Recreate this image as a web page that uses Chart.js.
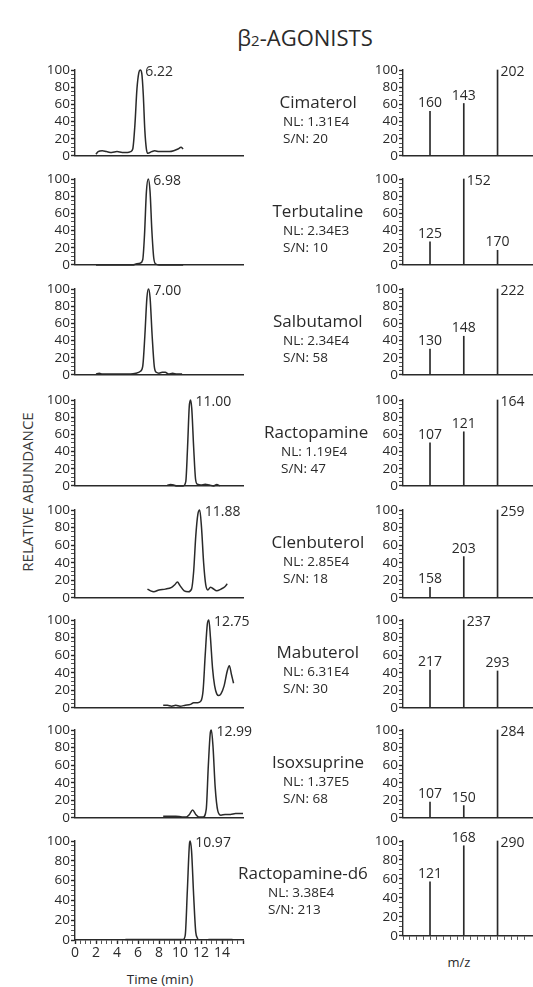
<!DOCTYPE html>
<html>
<head>
<meta charset="utf-8">
<script src="https://cdn.jsdelivr.net/npm/chart.js@4.4.1/dist/chart.umd.min.js"></script>
<style>
  html, body { margin: 0; padding: 0; background: #fff; }
  body { width: 533px; height: 987px; position: relative; overflow: hidden;
         font-family: "Open Sans", sans-serif; color: #2a2a2a; }
  .txt { position: absolute; white-space: nowrap; line-height: 1; }
  #title { left: 0; width: 610px; top: 26px; text-align: center; font-size: 22px; }
  #title sub { font-size: 15px; vertical-align: baseline; }
  #yTitle { left: 27px; top: 492px; font-size: 15px; color: #3a3a3a;
            transform: translate(-50%, -50%) rotate(-90deg); }
</style>
</head>
<body>
<div id="title" class="txt">β<sub>2</sub>-AGONISTS</div>
<div id="yTitle" class="txt">RELATIVE ABUNDANCE</div>
<div class="txt" style="left:160px;top:973px;font-size:13.5px;transform:translateX(-50%)">Time (min)</div>
<div class="txt" style="left:459px;top:956px;font-size:13px;transform:translateX(-50%)">m/z</div>

<script>
// ============================================================
// DATA
// ============================================================

const compounds      = ["Cimaterol", "Terbutaline", "Salbutamol", "Ractopamine",
                        "Clenbuterol", "Mabuterol", "Isoxsuprine", "Ractopamine-d6"];
const normLevels     = ["1.31E4", "2.34E3", "2.34E4", "1.19E4", "2.85E4", "6.31E4", "1.37E5", "3.38E4"];
const signalToNoise  = [20, 10, 58, 47, 18, 30, 68, 213];
const retentionTimes = ["6.22", "6.98", "7.00", "11.00", "11.88", "12.75", "12.99", "10.97"];
const timeTicks      = [0, 2, 4, 6, 8, 10, 12, 14];

// product ions (m/z) and their relative abundance, left to right as drawn
const ionMz = [
  [160, 143, 202], [125, 152, 170], [130, 148, 222], [107, 121, 164],
  [158, 203, 259], [217, 237, 293], [107, 150, 284], [121, 168, 290]
];
const ionAbundance = [
  [52, 61, 100], [27, 100, 17], [30, 45, 100], [50, 63, 100],
  [12, 47, 100], [43, 100, 42], [18, 14, 100], [57, 95, 100]
];

// chromatogram traces: [time (min), relative abundance]
const cimaterolTrace = [[2.0,2],[2.2,5],[2.6,6],[3.0,5],[3.5,4],[4.0,5],[4.5,4],[5.0,4],[5.3,5],
  [5.5,8],[5.7,35],[5.9,78],[6.08,97],[6.22,100],[6.36,96],[6.5,72],[6.65,30],[6.8,8],[6.95,3],
  [7.3,5],[7.6,6],[8.0,5],[8.5,5],[9.0,5],[9.4,6],[9.8,8],[10.1,10],[10.3,8]];
const terbutalineTrace = [[2.0,0],[5.5,0],[5.8,1],[6.2,2],[6.45,6],[6.62,35],[6.8,85],[6.98,100],
  [7.15,85],[7.32,40],[7.5,8],[7.7,1],[8.0,0],[10.3,0]];
const salbutamolTrace = [[2.0,1],[2.3,2],[2.6,1],[3.5,1],[4.5,1],[5.3,1],[5.8,2],[6.2,4],[6.45,10],
  [6.65,45],[6.85,90],[7.0,100],[7.15,90],[7.35,45],[7.55,10],[7.75,3],[8.0,2],[8.3,3],[8.6,3],
  [8.9,1],[9.3,2],[9.7,1],[10.2,1]];
const ractopamineTrace = [[8.8,1],[9.1,1.5],[9.4,1],[9.7,0],[10.3,0],[10.55,5],[10.72,45],[10.88,92],
  [11.0,100],[11.12,90],[11.3,45],[11.48,8],[11.65,2],[12.0,1],[12.4,2],[12.8,1],[13.2,0],[13.5,1.5],[13.8,0]];
const clenbuterolTrace = [[6.9,10],[7.2,8],[7.5,7],[8.0,9],[8.6,10],[9.2,12],[9.5,15],[9.75,18],
  [10.0,14],[10.4,8],[10.8,7],[11.1,10],[11.3,30],[11.5,70],[11.7,95],[11.88,100],[12.05,80],
  [12.25,40],[12.45,15],[12.65,9],[12.9,12],[13.1,11],[13.5,8],[13.9,10],[14.3,13],[14.5,16]];
const mabuterolTrace = [[8.4,3],[8.8,3],[9.2,2],[9.6,3],[10.0,2],[10.5,3],[11.0,4],[11.3,6],[11.7,6],
  [12.0,8],[12.2,20],[12.4,60],[12.6,95],[12.75,100],[12.9,80],[13.1,45],[13.3,25],[13.5,16],
  [13.7,14],[13.9,16],[14.2,25],[14.5,42],[14.7,48],[14.9,38],[15.1,28]];
const isoxsuprineTrace = [[8.4,2],[9.0,2],[9.6,2],[10.2,1],[10.6,1],[10.9,4],[11.2,9],[11.5,4],[11.8,1],
  [12.2,1],[12.5,10],[12.7,60],[12.9,98],[12.99,100],[13.15,80],[13.35,35],[13.6,8],[13.9,3],
  [14.3,4],[14.8,4],[15.3,5],[16.0,5]];
const ractopamineD6Trace = [[4.8,0.5],[10.3,0.5],[10.5,5],[10.7,50],[10.9,97],[10.97,100],[11.1,90],
  [11.3,45],[11.5,8],[11.7,1],[11.8,null],[12.7,0.5],[15.0,0.5]];

const traces = [cimaterolTrace, terbutalineTrace, salbutamolTrace, ractopamineTrace,
                clenbuterolTrace, mabuterolTrace, isoxsuprineTrace, ractopamineD6Trace];


// ============================================================
// LAYOUT
// ============================================================

const INK  = "#2a2a2a";
const FONT = '"Open Sans", sans-serif';
const rowTop    = [70, 179, 289, 400, 510, 620, 730, 841];
const rowBottom = [164, 273, 383, 494, 606, 716, 826, 940];


// ============================================================
// PLUGINS
// ============================================================

const peakLabel = {
  id: "peakLabel",
  afterDatasetsDraw(chart, args, opts) {
    if (!opts.text) return;
    const ctx = chart.ctx;
    ctx.save();
    ctx.font = "14px " + FONT;
    ctx.fillStyle = INK;
    ctx.textBaseline = "middle";
    ctx.fillText(opts.text, chart.scales.x.getPixelForValue(opts.at) + 5, chart.chartArea.top + 2);
    ctx.restore();
  }
};

const stickLabels = {
  id: "stickLabels",
  afterDatasetsDraw(chart, args, opts) {
    if (!opts.labels) return;
    const ctx  = chart.ctx;
    const meta = chart.getDatasetMeta(0);
    ctx.save();
    ctx.font = "14px " + FONT;
    ctx.fillStyle = INK;
    meta.data.forEach((bar, k) => {
      const v = chart.data.datasets[0].data[k].y;
      if (v >= 99) {
        ctx.textAlign = "left";
        ctx.textBaseline = "middle";
        ctx.fillText(opts.labels[k], bar.x + 3, bar.y + 2);
      } else {
        ctx.textAlign = "center";
        ctx.textBaseline = "alphabetic";
        ctx.fillText(opts.labels[k], bar.x, bar.y - 4);
      }
    });
    ctx.restore();
  }
};

Chart.register(peakLabel, stickLabels);


// ============================================================
// CHARTS
// ============================================================

function makeCanvas(left, top, w, h) {
  const c = document.createElement("canvas");
  c.width = w; c.height = h;
  c.style.cssText = `position:absolute;left:${left}px;top:${top}px;width:${w}px;height:${h}px`;
  document.body.appendChild(c);
  return c;
}

function yAxis(width) {
  return {
    min: 0, max: 100,
    afterFit: s => { s.width = width; },
    border: { color: INK, width: 1.4 },
    grid: {
      drawOnChartArea: false, tickLength: 4, tickColor: INK,
      tickWidth: c => (c.tick && c.tick.value % 20 === 0) ? 1.4 : 0.8
    },
    ticks: {
      stepSize: 5, autoSkip: false, padding: 1, color: INK,
      font: { family: FONT, size: 13.5 },
      callback: v => v % 20 === 0 ? v : ""
    }
  };
}

function chromChart(i) {
  const isBottom = i === compounds.length - 1;
  const padTop = 12;
  const axisH  = isBottom ? 26 : 1;
  const cv = makeCanvas(0, rowTop[i] - padTop, 275, padTop + rowBottom[i] - rowTop[i] + axisH);

  new Chart(cv, {
    type: "line",
    data: {
      datasets: [{
        data: traces[i].map(p => ({ x: p[0], y: p[1] })),
        borderColor: INK,
        borderWidth: 1.5,
        pointRadius: 0,
        cubicInterpolationMode: "monotone",
        spanGaps: false,
        clip: false
      }]
    },
    options: {
      animation: false, responsive: false, events: [],
      layout: { padding: { top: padTop, left: 0, right: 32, bottom: 0 } },
      plugins: {
        legend: { display: false }, tooltip: { enabled: false },
        peakLabel: { text: retentionTimes[i], at: parseFloat(retentionTimes[i]) }
      },
      scales: {
        x: {
          type: "linear", min: 0, max: 16,
          afterFit: s => { s.height = axisH; },
          border: { color: INK, width: 1.4 },
          grid: {
            display: isBottom, drawOnChartArea: false, tickLength: 4, tickColor: INK,
            tickWidth: c => (c.tick && c.tick.value % 2 === 0) ? 1.4 : 0.8
          },
          ticks: {
            display: isBottom, stepSize: 0.5, autoSkip: false, maxRotation: 0, padding: 1,
            color: INK, font: { family: FONT, size: 14 },
            callback: v => timeTicks.includes(v) ? String(v) : ""
          }
        },
        y: yAxis(75)
      }
    }
  });
}

function spectrumChart(i) {
  const isBottom = i === compounds.length - 1;
  const padTop = 16;
  const axisH  = isBottom ? 5 : 1;
  const cv = makeCanvas(350, rowTop[i] - padTop, 183, padTop + rowBottom[i] - rowTop[i] + axisH);

  new Chart(cv, {
    type: "bar",
    data: {
      datasets: [{
        data: ionAbundance[i].map((a, k) => ({ x: k + 1, y: a })),
        backgroundColor: INK,
        barThickness: 1,
        clip: false
      }]
    },
    options: {
      animation: false, responsive: false, events: [],
      layout: { padding: { top: padTop, left: 0, right: 0, bottom: 0 } },
      plugins: {
        legend: { display: false }, tooltip: { enabled: false },
        stickLabels: { labels: ionMz[i].map(String) }
      },
      scales: {
        x: {
          type: "linear", min: 0.2, max: 4.05, offset: false,
          afterFit: s => { s.height = axisH; },
          border: { color: INK, width: 1.4 },
          grid: { display: isBottom, offset: false, drawOnChartArea: false, tickLength: 4, tickColor: INK, tickWidth: 0.8 },
          ticks: { display: false, stepSize: 0.2, autoSkip: false }
        },
        y: yAxis(53)
      }
    }
  });
}

function addCaption(i) {
  const name = document.createElement("div");
  name.className = "txt";
  name.textContent = compounds[i];
  name.style.cssText = `left:0;top:${rowTop[i] + 31}px;font-size:17px;transform:translateY(-50%)`;
  document.body.appendChild(name);

  const w = name.offsetWidth;
  const center = Math.min(318, 368 - w / 2);
  name.style.left = (center - w / 2) + "px";

  [["NL: " + normLevels[i], 52], ["S/N: " + signalToNoise[i], 69]].forEach(([t, dy]) => {
    const d = document.createElement("div");
    d.className = "txt";
    d.textContent = t;
    d.style.cssText = `left:${center - 35}px;top:${rowTop[i] + dy}px;font-size:13.5px;transform:translateY(-50%)`;
    document.body.appendChild(d);
  });
}


// ============================================================
// INIT
// ============================================================

compounds.forEach((c, i) => {
  chromChart(i);
  spectrumChart(i);
  addCaption(i);
});
</script>
</body>
</html>
